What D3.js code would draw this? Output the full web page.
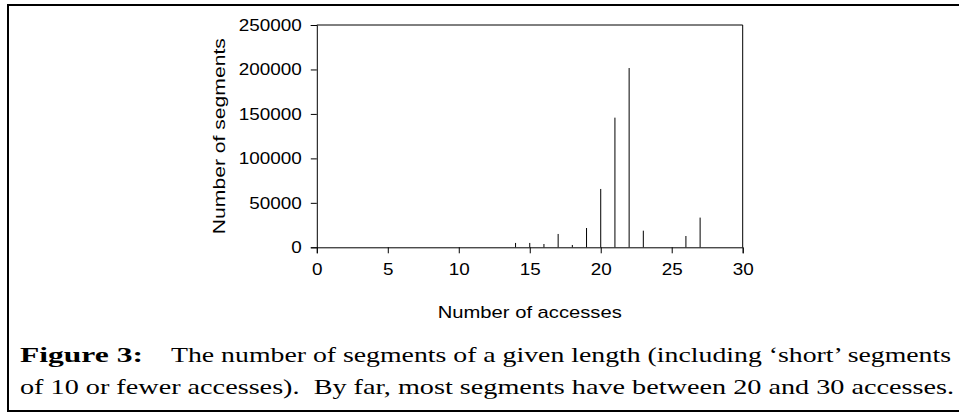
<!DOCTYPE html>
<html><head><meta charset="utf-8">
<script src="https://cdn.jsdelivr.net/npm/d3@7/dist/d3.min.js"></script>
<style>body{margin:0;background:#fff;}svg{display:block;}</style>
</head><body>
<svg id="chart" width="959" height="417"></svg>
<script>
const accesses = [14, 15, 16, 17, 18, 19, 20, 21, 22, 23, 26, 27];
const segments = [4900, 4900, 3700, 15000, 2600, 21700, 65600, 145800, 201600, 18700, 12700, 33400];
const xTicks = [0, 5, 10, 15, 20, 25, 30];
const yTicks = [0, 50000, 100000, 150000, 200000, 250000];
const xTitle = "Number of accesses";
const yTitle = "Number of segments";
const captionBold = "Figure 3:";
const captionLine1 = "The number of segments of a given length (including \u2018short\u2019 segments";
const captionLine2 = "of 10 or fewer accesses).  By far, most segments have between 20 and 30 accesses.";

const svg = d3.select("#chart");
const L = 316.8, R = 742.7, T = 25, B = 247.3;
const x = d3.scaleLinear().domain([0, 30]).range([L, R]);
const y = d3.scaleLinear().domain([0, 250000]).range([B, T]);
const font = "'Liberation Sans', Arial, sans-serif";

// outer frame
svg.append("rect").attr("x", 8).attr("y", 5).attr("width", 960).attr("height", 406)
  .attr("fill", "none").attr("stroke", "#000").attr("stroke-width", 2);

// plot box (top and right)
svg.append("path").attr("d", `M${L},${T}H${R}V${B}`).attr("fill", "none").attr("stroke", "#000").attr("stroke-width", 1);

// axes
const yAxis = svg.append("g").attr("transform", `translate(${L},0)`)
  .call(d3.axisLeft(y).tickValues(yTicks).tickSize(6).tickPadding(9).tickFormat(d3.format("d")));
const xAxis = svg.append("g").attr("transform", `translate(0,${B})`)
  .call(d3.axisBottom(x).tickValues(xTicks).tickSize(6).tickPadding(10).tickFormat(d3.format("d")));
[yAxis, xAxis].forEach(g => {
  g.select(".domain").attr("stroke", "#000");
  g.selectAll(".tick line").attr("stroke", "#000");
  g.selectAll("text").attr("font-family", font).attr("font-size", 17).attr("fill", "#000")
    .each(function(){ const t = d3.select(this); t.attr("textLength", t.text().length * 10.5).attr("lengthAdjust", "spacingAndGlyphs"); });
});

// bars (spikes)
svg.append("g").selectAll("line").data(accesses).join("line")
  .attr("x1", d => x(d)).attr("x2", d => x(d))
  .attr("y1", y(0)).attr("y2", (d, i) => y(segments[i]))
  .attr("stroke", "#000").attr("stroke-width", 1);

// axis titles
svg.append("text").attr("x", (L + R) / 2).attr("y", 318).attr("text-anchor", "middle")
  .attr("font-family", font).attr("font-size", 17).attr("textLength", 184).attr("lengthAdjust", "spacingAndGlyphs")
  .text(xTitle);
svg.append("text").attr("transform", `translate(225,${(T + B) / 2}) rotate(-90)`).attr("text-anchor", "middle")
  .attr("font-family", font).attr("font-size", 17).attr("textLength", 196).attr("lengthAdjust", "spacingAndGlyphs")
  .text(yTitle);

// caption
const serif = "'Liberation Serif', 'Times New Roman', serif";
svg.append("text").attr("x", 20).attr("y", 362).attr("font-family", serif).attr("font-size", 21)
  .attr("font-weight", "bold").attr("textLength", 123).attr("lengthAdjust", "spacingAndGlyphs").text(captionBold);
svg.append("text").attr("x", 171).attr("y", 362).attr("font-family", serif).attr("font-size", 21)
  .attr("textLength", 780).attr("lengthAdjust", "spacingAndGlyphs").text(captionLine1);
svg.append("text").attr("x", 20).attr("y", 394).attr("font-family", serif).attr("font-size", 21)
  .attr("textLength", 934).attr("lengthAdjust", "spacingAndGlyphs").attr("xml:space", "preserve").text(captionLine2);
</script>
</body></html>
